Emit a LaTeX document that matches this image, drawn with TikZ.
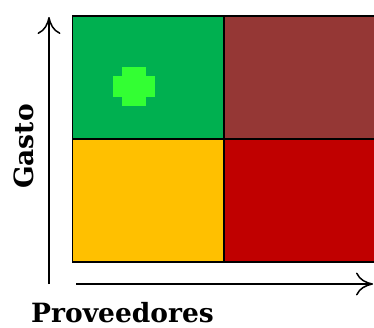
\documentclass[tikz,border=0pt]{standalone}
\usepackage{fontspec}
\setmainfont{DejaVu Serif}
\usetikzlibrary{arrows.meta}
\definecolor{cgreen}{HTML}{00B050}
\definecolor{cbrown}{HTML}{953735}
\definecolor{cyellow}{HTML}{FFC000}
\definecolor{cred}{HTML}{C00000}
\definecolor{cbright}{HTML}{33FF33}
\tikzset{
  cell/.style={draw=black, line width=1.3pt},
  axis/.style={line width=1.5pt, -{To[length=17pt,width=23pt,line width=1.5pt]}},
  lbl/.style={font=\bfseries\fontsize{26.5}{30}\selectfont, inner sep=0pt}
}
\begin{document}
\begin{tikzpicture}[x=1pt,y=-1pt]
\useasboundingbox (0,0) rectangle (374,327);
\path[cell, fill=cgreen] (72.5,16) rectangle (224,139);
\path[cell, fill=cbrown] (224,16) rectangle (376,139);
\path[cell, fill=cyellow] (72.5,139) rectangle (224,262);
\path[cell, fill=cred] (224,139) rectangle (376,262);
\fill[cbright] (121.7,66.7) rectangle (146,106);
\fill[cbright] (112.7,76.3) rectangle (155.3,96.7);
\coordinate (vs) at (49,284);
\coordinate (ve) at (49,17);
\coordinate (hs) at (76,284);
\coordinate (he) at (373,284);
\draw[axis] (vs) -- (ve);
\draw[axis] (hs) -- (he);
\node[lbl, rotate=90, anchor=base] (gasto) at (33,146.5) {Gasto};
\node[lbl, anchor=base west] (prov) at (31,322) {Proveedores};
\end{tikzpicture}
\end{document}
